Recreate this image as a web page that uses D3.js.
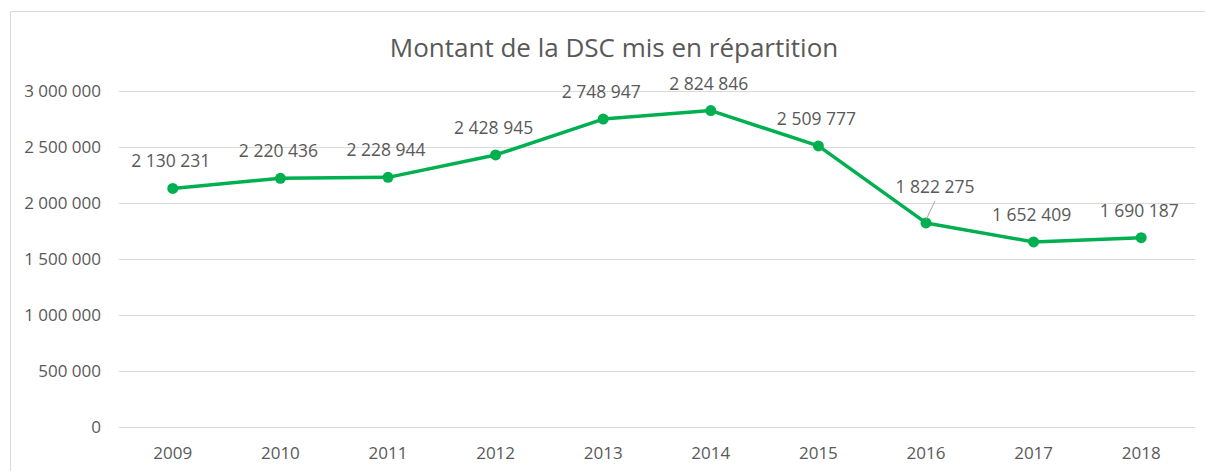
<!DOCTYPE html>
<html>
<head>
<meta charset="utf-8">
<script src="https://cdn.jsdelivr.net/npm/d3@7"></script>
<style>
  body { margin: 0; background: #fff; }
  svg text { font-family: "Open Sans", "DejaVu Sans", sans-serif; fill: #595959; }
</style>
</head>
<body>
<svg id="chart" width="1205" height="471"></svg>
<script>
// data
const years = ["2009", "2010", "2011", "2012", "2013", "2014", "2015", "2016", "2017", "2018"];
const amounts = [2130231, 2220436, 2228944, 2428945, 2748947, 2824846, 2509777, 1822275, 1652409, 1690187];
const yTicks = [0, 500000, 1000000, 1500000, 2000000, 2500000, 3000000];
const title = "Montant de la DSC mis en répartition";

const svg = d3.select("#chart");
const margin = { top: 91, right: 10, bottom: 44, left: 119 };
const width = 1205, height = 471;

const fr = d3.formatLocale({ decimal: ",", thousands: " ", grouping: [3], currency: ["", " €"] });
const fmt = fr.format(",d");

const x = d3.scaleBand()
  .domain(years)
  .range([margin.left, width - margin.right])
  .padding(0);

const y = d3.scaleLinear()
  .domain([0, 3000000])
  .range([height - margin.bottom, margin.top]);

// chart frame (only left and top visible in the crop)
svg.append("path")
  .attr("d", `M10.5,${height} V11.5 H${width}`)
  .attr("fill", "none")
  .attr("stroke", "#d9d9d9")
  .attr("stroke-width", 1);

// title
svg.append("text")
  .attr("x", 614)
  .attr("y", 57)
  .attr("text-anchor", "middle")
  .style("font-size", "26px")
  .text(title);

// grid + y labels
const yAxis = svg.append("g")
  .attr("transform", `translate(${margin.left},0)`)
  .call(d3.axisLeft(y).tickValues(yTicks).tickFormat(fmt)
    .tickSize(-(width - margin.left - margin.right)).tickPadding(18));
yAxis.select(".domain").remove();
yAxis.selectAll(".tick line").attr("stroke", "#d9d9d9").attr("stroke-width", 1);
yAxis.selectAll(".tick text")
  .attr("fill", "#595959")
  .style("font-size", "17px")
  .attr("font-family", null);

// x labels
const xAxis = svg.append("g")
  .attr("transform", `translate(0,${height - margin.bottom})`)
  .call(d3.axisBottom(x).tickSize(0).tickPadding(20));
xAxis.select(".domain").remove();
xAxis.selectAll(".tick text")
  .attr("fill", "#595959")
  .style("font-size", "17px")
  .attr("font-family", null);

const pts = years.map((yr, i) => ({ year: yr, value: amounts[i] }));
const cx = d => x(d.year) + x.bandwidth() / 2;

// line
svg.append("path")
  .datum(pts)
  .attr("fill", "none")
  .attr("stroke", "#00b050")
  .attr("stroke-width", 3.5)
  .attr("stroke-linejoin", "round")
  .attr("d", d3.line().x(cx).y(d => y(d.value)));

// markers
svg.append("g")
  .selectAll("circle")
  .data(pts)
  .enter().append("circle")
  .attr("cx", cx)
  .attr("cy", d => y(d.value))
  .attr("r", 5.5)
  .attr("fill", "#00b050");

// leader line for 2016 label (moved off the line)
const moved = { "2016": { dx: 9, dy: -30 } };
svg.append("g")
  .selectAll("line")
  .data(pts.filter(d => moved[d.year]))
  .enter().append("line")
  .attr("x1", d => cx(d))
  .attr("y1", d => y(d.value) - 3)
  .attr("x2", d => cx(d) + moved[d.year].dx)
  .attr("y2", d => y(d.value) + moved[d.year].dy + 8)
  .attr("stroke", "#a6a6a6")
  .attr("stroke-width", 1);

// data labels
svg.append("g")
  .selectAll("text")
  .data(pts)
  .enter().append("text")
  .attr("x", d => cx(d) + (moved[d.year] ? moved[d.year].dx : -2))
  .attr("y", d => y(d.value) + (moved[d.year] ? moved[d.year].dy : -21))
  .attr("text-anchor", "middle")
  .style("font-size", "17.5px")
  .text(d => fmt(d.value));
</script>
</body>
</html>
